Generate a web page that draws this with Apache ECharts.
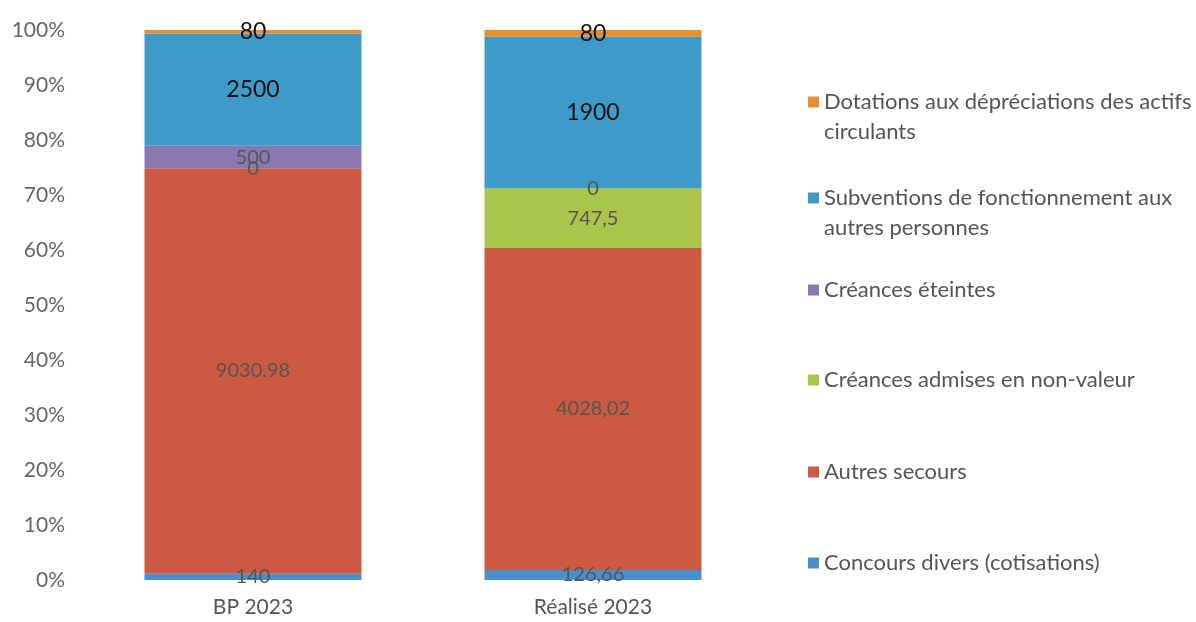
<!DOCTYPE html>
<html lang="fr">
<head>
    <meta charset="UTF-8">
    <title>Répartition BP / Réalisé 2023</title>
    <script src="https://cdn.jsdelivr.net/npm/echarts@6/dist/echarts.min.js"></script>
    <style>
        html, body { margin: 0; padding: 0; background: #fff; }
        #main { width: 1196px; height: 622px; }
    </style>
</head>
<body>
<div id="main"></div>
<script>
    // données (montants bruts, de bas en haut de la pile)
    var categories = ['BP 2023', 'Réalisé 2023'];
    var seriesNames = [
        'Concours divers (cotisations)',
        'Autres secours',
        'Créances admises en non-valeur',
        'Créances éteintes',
        'Subventions de fonctionnement aux autres personnes',
        'Dotations aux dépréciations des actifs circulants'
    ];
    var concoursDivers = [140, 126.66];
    var autresSecours = [9030.98, 4028.02];
    var admisesNonValeur = [0, 747.5];
    var creancesEteintes = [500, 0];
    var subventions = [2500, 1900];
    var dotations = [80, 80];
    var yTicks = [0, 10, 20, 30, 40, 50, 60, 70, 80, 90, 100];

    var colors = ['#4a8fcb', '#cc5a43', '#a9c64b', '#8a78b2', '#3e9ac8', '#e8902f'];
    var allValues = [concoursDivers, autresSecours, admisesNonValeur, creancesEteintes, subventions, dotations];

    // totaux par colonne pour passer en 100 %
    var totals = categories.map(function (c, i) {
        return allValues.reduce(function (s, arr) { return s + arr[i]; }, 0);
    });

    function fmt(v, idx) {
        var s = String(v);
        // le réalisé est écrit avec une virgule décimale
        return idx === 1 ? s.replace('.', ',') : s;
    }

    var series = allValues.map(function (arr, k) {
        var strong = k >= 4;
        return {
            name: seriesNames[k],
            type: 'bar',
            stack: 'total',
            barWidth: 217,
            itemStyle: { color: colors[k] },
            label: {
                show: true,
                position: 'inside',
                fontFamily: 'Lato',
                fontSize: strong ? 23 : 20,
                color: strong ? '#111' : '#555',
                formatter: function (p) { return fmt(arr[p.dataIndex], p.dataIndex); }
            },
            data: arr.map(function (v, i) { return v / totals[i] * 100; })
        };
    });

    // une légende par série pour reproduire l'espacement
    // (ligne vide en tête pour que le carré soit aligné sur la 1re ligne)
    var legendTops = [543, 452, 360, 270, 148, 52];
    var legendText = [
        'Concours divers (cotisations)',
        'Autres secours',
        'Créances admises en non-valeur',
        'Créances éteintes',
        ' \nSubventions de fonctionnement aux\nautres personnes',
        ' \nDotations aux dépréciations des actifs\ncirculants'
    ];
    var legends = seriesNames.map(function (n, k) {
        return {
            orient: 'vertical',
            left: 803,
            top: legendTops[k],
            itemWidth: 11,
            itemHeight: 11,
            itemGap: 0,
            selectedMode: false,
            icon: 'rect',
            data: [n],
            formatter: function () { return legendText[k]; },
            textStyle: {
                fontFamily: 'Lato',
                fontSize: 22,
                color: '#555',
                lineHeight: 30
            }
        };
    });

    var myChart = echarts.init(document.getElementById('main'));
    var option = {
        animation: false,
        legend: legends,
        grid: { left: 83, right: 433, top: 30, bottom: 42 },
        xAxis: {
            type: 'category',
            data: categories,
            axisLine: { show: false },
            axisTick: { show: false },
            axisLabel: { fontFamily: 'Lato', fontSize: 21, color: '#555', margin: 17 }
        },
        yAxis: {
            type: 'value',
            min: yTicks[0],
            max: yTicks[yTicks.length - 1],
            interval: 10,
            splitLine: { show: false },
            axisLine: { show: false },
            axisLabel: {
                fontFamily: 'Lato', fontSize: 21, color: '#666', margin: 18,
                formatter: '{value}%'
            }
        },
        series: series
    };
    myChart.setOption(option);
</script>
</body>
</html>
